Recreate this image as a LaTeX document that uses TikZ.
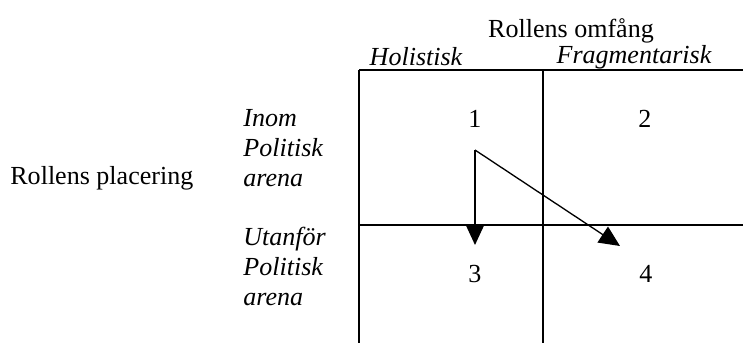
\documentclass[tikz,border=0pt]{standalone}
\usepackage{fontspec}
\setmainfont{Liberation Serif}
\usetikzlibrary{arrows.meta,positioning}

\begin{document}
\begin{tikzpicture}[x=0.53pt,y=-0.53pt,
    font=\fontsize{13.8}{15.9}\selectfont,
    txt/.style={inner sep=0pt},
    side/.style={inner sep=0pt,align=left,anchor=west,font=\fontsize{13.8}{15.9}\selectfont\itshape},
    gridline/.style={line width=1.1pt},
    move/.style={line width=0.7pt,-{Triangle[length=11pt,width=10pt]}}]
  \useasboundingbox (0,0) rectangle (743,343);
  % grid
  \draw[gridline] (359,70)--(743,70);
  \draw[gridline] (359,225)--(743,225);
  \draw[gridline] (359,70)--(359,343);
  \draw[gridline] (543,70)--(543,343);
  % headings
  \node[txt] (omfang) at (571,31) {Rollens omfång};
  \node[txt,font=\fontsize{13.8}{15.9}\selectfont\itshape] (holist) at (416,57) {Holistisk};
  \node[txt,font=\fontsize{13.8}{15.9}\selectfont\itshape] (fragm) at (634,57) {Fragmentarisk};
  \node[txt,anchor=west] (placering) at (10,178) {Rollens placering};
  \node[side] (inom) at (243,148) {Inom\\Politisk\\arena};
  \node[side] (utanfor) at (243,266) {Utanför\\Politisk\\arena};
  % cells
  \node[txt] (n1) at (475,119) {1};
  \node[txt] (n2) at (645,119) {2};
  \node[txt] (n3) at (475,274) {3};
  \node[txt] (n4) at (646,274) {4};
  % moves
  \coordinate (src) at (475,150);
  \coordinate (to3) at (475,245);
  \coordinate (to4) at (620,246);
  \draw[move] (src)--(to3);
  \draw[move] (src)--(to4);
\end{tikzpicture}
\end{document}
